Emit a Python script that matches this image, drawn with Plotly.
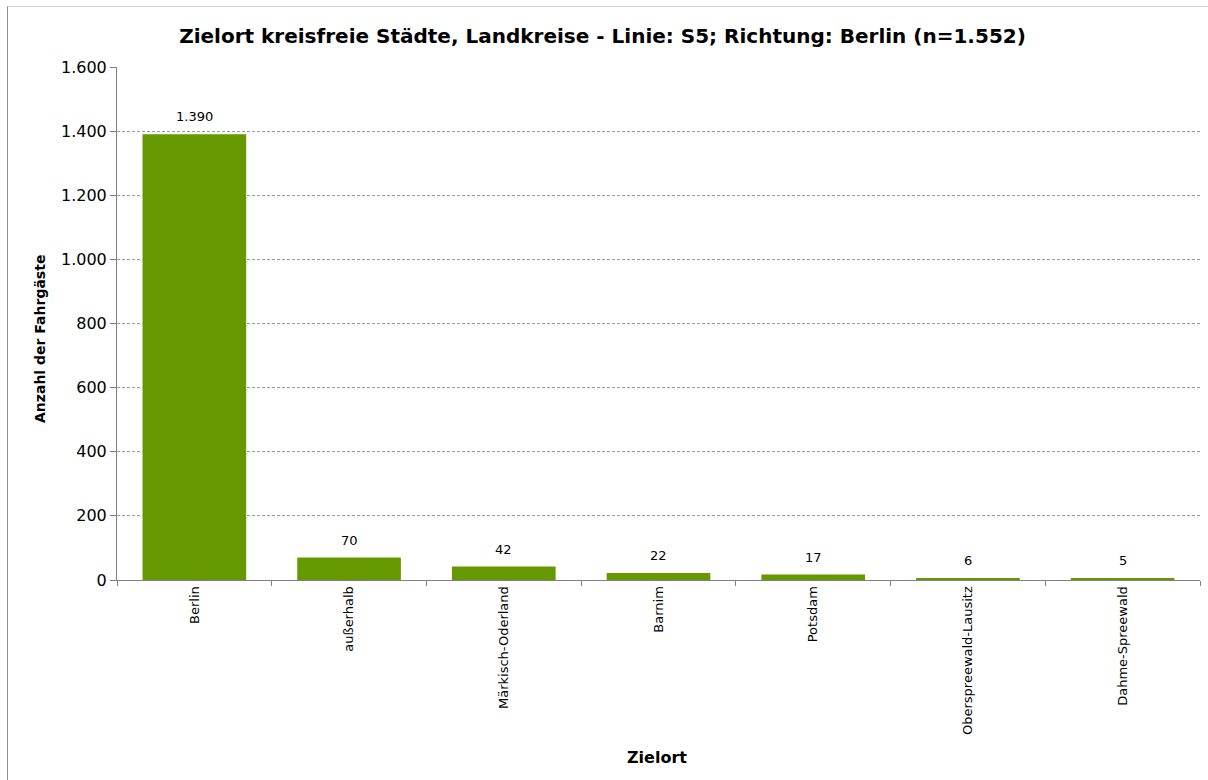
import plotly.graph_objects as go

categories = ["Berlin", "außerhalb", "Märkisch-Oderland", "Barnim", "Potsdam",
              "Oberspreewald-Lausitz", "Dahme-Spreewald"]
values = [1390, 70, 42, 22, 17, 6, 5]
y_ticks = [0, 200, 400, 600, 800, 1000, 1200, 1400, 1600]
title_text = "Zielort kreisfreie Städte, Landkreise - Linie: S5; Richtung: Berlin (n=1.552)"
x_title = "Zielort"
y_title = "Anzahl der Fahrgäste"

bar_color = "#669900"

fig = go.Figure()
fig.add_trace(go.Bar(
    x=categories, y=values,
    marker=dict(color=bar_color, line=dict(width=0)),
    width=0.67,
    hoverinfo="x+y",
))

L, R, T, B = 117, 8, 67, 200
W, H = 1208, 780
pw, ph = W - L - R, H - T - B

def px_x(p):
    return (p - L) / pw

def px_y(p):
    return 1 - (p - T) / ph

annotations = []
for c, v in zip(categories, values):
    annotations.append(dict(
        x=c, y=v, xref="x", yref="y", text=f"{v:,}".replace(",", "."),
        showarrow=False, yanchor="bottom", yshift=8,
        font=dict(family="DejaVu Sans", size=13, color="#000000"),
    ))

annotations.append(dict(
    x=px_x(40), y=px_y(339), xref="paper", yref="paper", text=y_title,
    textangle=-90, showarrow=False, xanchor="center", yanchor="middle",
    font=dict(family="DejaVu Sans", size=14, color="#000000", weight="bold"),
))
annotations.append(dict(
    x=px_x(657), y=px_y(757), xref="paper", yref="paper", text=x_title,
    showarrow=False, xanchor="center", yanchor="middle",
    font=dict(family="DejaVu Sans", size=16, color="#000000", weight="bold"),
))

shapes = [
    dict(type="line", xref="paper", yref="paper", x0=px_x(7.5), x1=px_x(7.5),
         y0=px_y(6), y1=px_y(790), line=dict(color="#8c8c8c", width=1)),
    dict(type="line", xref="paper", yref="paper", x0=px_x(7.5), x1=px_x(1215),
         y0=px_y(6.5), y1=px_y(6.5), line=dict(color="#d0d0d0", width=1)),
]

fig.update_layout(
    width=W, height=H,
    margin=dict(l=L, r=R, t=T, b=B, pad=0),
    paper_bgcolor="white", plot_bgcolor="white",
    separators=",.",
    showlegend=False,
    title=dict(text=title_text, x=(175 + 1030) / 2 / W, xanchor="center",
               y=1 - 36 / H, yanchor="middle",
               font=dict(family="DejaVu Sans", size=20, color="#000000", weight="bold")),
    xaxis=dict(
        type="category", categoryorder="array", categoryarray=categories,
        tickangle=-90, ticks="outside", tickson="boundaries", ticklen=5,
        tickcolor="#808080", showline=True, linecolor="#808080", linewidth=1,
        showgrid=False, zeroline=False,
        tickfont=dict(family="DejaVu Sans", size=13, color="#000000"),
        range=[-0.5, len(categories) - 0.5],
    ),
    yaxis=dict(
        range=[0, 1600], tickvals=y_ticks, separatethousands=True, tickformat=",d",
        ticks="outside", ticklen=6, tickcolor="#808080",
        showline=True, linecolor="#808080", linewidth=1,
        showgrid=True, gridcolor="#9a9a9a", gridwidth=1, griddash="3px,2px",
        zeroline=False,
        tickfont=dict(family="DejaVu Sans", size=16, color="#000000"),
    ),
    annotations=annotations,
    shapes=shapes,
)

fig.write_html("out.html", config={"displayModeBar": False},
               post_script="document.body.style.margin='0';")
